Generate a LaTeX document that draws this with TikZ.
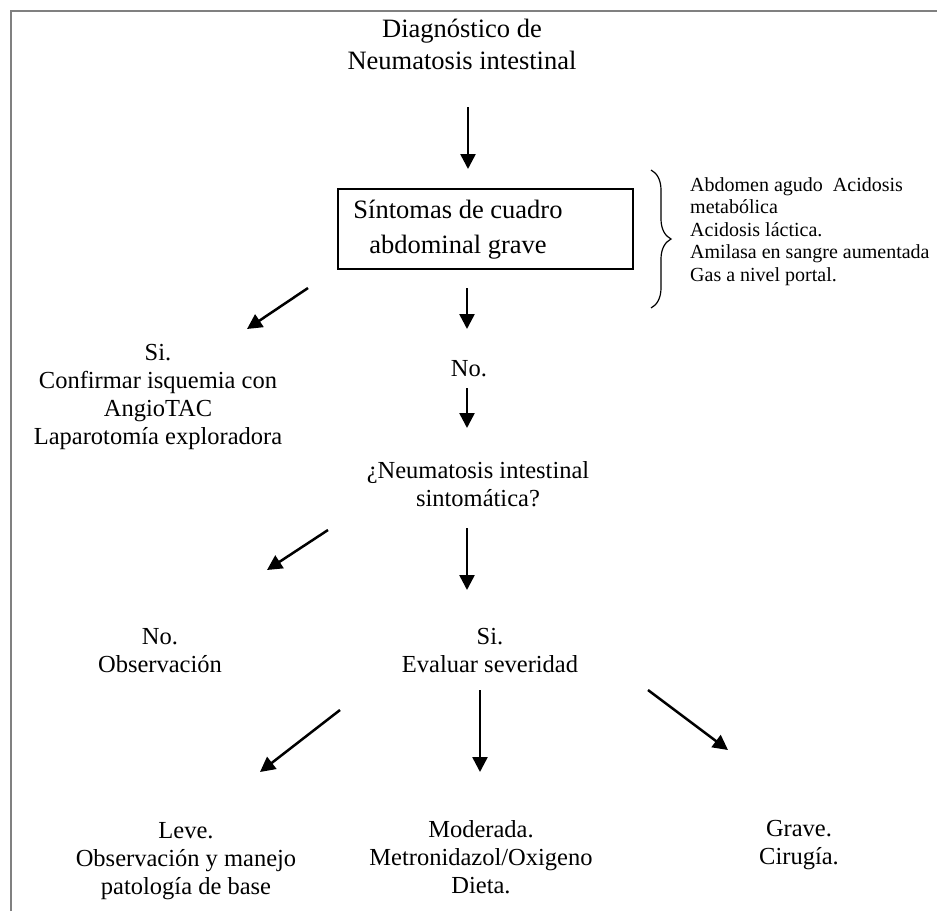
\documentclass[tikz,border=0pt]{standalone}
\usepackage{fontspec}
\setmainfont{Liberation Serif}
\usetikzlibrary{arrows.meta,decorations.pathreplacing}

\tikzset{
  txt/.style={align=center, inner sep=0pt, font=\fontsize{24.5}{28}\selectfont},
  grande/.style={align=center, inner sep=0pt, font=\fontsize{26.5}{34}\selectfont},
  lista/.style={align=left, inner sep=0pt, font=\fontsize{20}{22.5}\selectfont},
  flecha/.style={line width=2.5pt, -{Triangle[length=15pt,width=15pt]}},
}

\begin{document}
\begin{tikzpicture}[x=1pt,y=-1pt]
\useasboundingbox (0,0) rectangle (937,911);
\draw[gray, line width=1.5pt] (11,911) -- (11,11) -- (937,11);

\node[grande, font=\fontsize{26.5}{32}\selectfont] (diag) at (462,44) {Diagnóstico de\\Neumatosis intestinal};
\node[draw, line width=1.3pt, minimum width=295pt, minimum height=80pt, inner sep=0pt] (caja) at (485.5,229) {};
\node[grande, font=\fontsize{26.5}{35}\selectfont] (sintomas) at (458,230) {Síntomas de cuadro\\abdominal grave};
\node[lista, anchor=north west] (signos) at (690,177) {Abdomen agudo~ Acidosis\\metabólica\\Acidosis láctica.\\Amilasa en sangre aumentada\\Gas a nivel portal.};
\draw[decorate, decoration={brace, amplitude=20pt}, line width=1.2pt] (651,170) -- (651,308);

\node[txt] (no1) at (469,369) {No.};
\node[txt] (si1) at (158,397) {Si.\\Confirmar isquemia con\\AngioTAC\\Laparotomía exploradora};
\node[txt] (pregunta) at (478,484) {¿Neumatosis intestinal\\sintomática?};
\node[txt] (no2) at (160,651) {No.\\Observación};
\node[txt] (si2) at (490,650) {Si.\\Evaluar severidad};
\node[txt] (leve) at (186,861) {Leve.\\Observación y manejo\\patología de base};
\node[txt] (moderada) at (481,857) {Moderada.\\Metronidazol/Oxigeno\\Dieta.};
\node[txt] (grave) at (799,845) {Grave.\\Cirugía.};

\foreach \f/\xa/\ya/\xb/\yb in {a1/468/107/468/169, a2/467/288/467/329, a3/308/288/247/329,
  a4/467/388/467/428, a5/467/528/467/590, a6/328/530/267/570,
  a7/340/710/260/772, a8/480/690/480/772, a9/648/690/728/750}
{
  \coordinate (\f-i) at (\xa,\ya);
  \coordinate (\f-f) at (\xb,\yb);
  \draw[flecha] (\f-i) -- (\f-f);
}
\end{tikzpicture}
\end{document}
